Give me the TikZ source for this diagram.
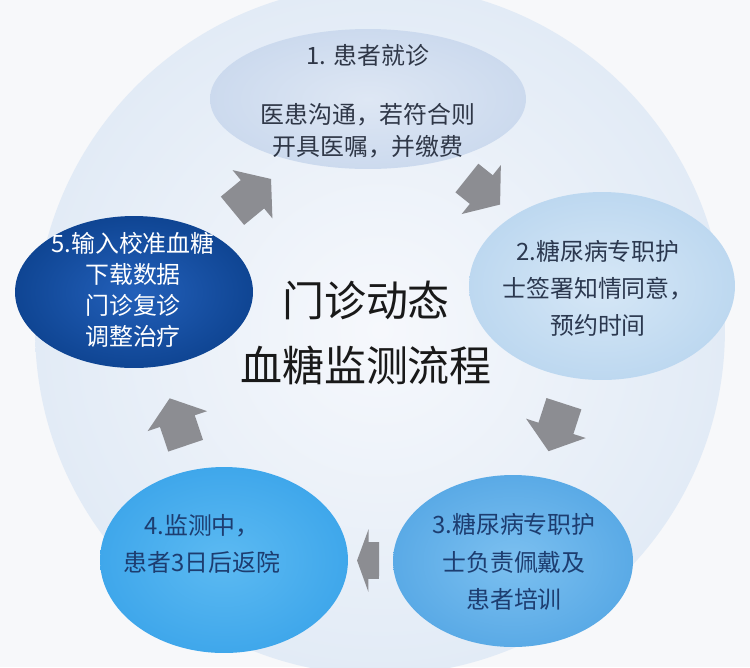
\documentclass[tikz,border=0pt]{standalone}
\usepackage{fontspec}
\usepackage{xcolor}
\usetikzlibrary{shapes.geometric,shapes.arrows}
\newfontfamily\cjk{Noto Sans CJK SC}
\definecolor{cgmBack}{HTML}{F7F8FA}
\definecolor{cgmRingIn}{HTML}{F6F8FC}
\definecolor{cgmRingOut}{HTML}{E2EBF6}
\definecolor{cgmGray}{HTML}{8C8D92}
\definecolor{cgmInk}{HTML}{2F3747}
\definecolor{cgmNavy}{HTML}{1D3D70}
\tikzset{
 cgm step/.style={ellipse,inner sep=0pt,outer sep=0pt},
 cgm label/.style={font=\cjk\fontsize{13.6}{#1}\selectfont,align=center,
                   inner sep=0pt},
 cgm label/.default=21,
 cgm title/.style={font=\cjk\fontsize{23.9}{37.5}\selectfont,align=center,
                   inner sep=0pt,text=black!90},
 cgm arrow/.style={single arrow,fill=cgmGray,inner xsep=0pt,inner ysep=.36cm,
                   single arrow head extend=.26cm,single arrow tip angle=105,
                   minimum height=1cm,sloped,allow upside down}
}

\begin{document}
\begin{tikzpicture}[x=.02cm,y=-.02cm]
 \clip (0,0) rectangle (750,667);
 \fill[cgmBack] (0,0) rectangle (750,667);
 \shade[inner color=cgmRingIn,outer color=cgmRingOut] (380,330) circle [radius=6.9cm];

 % the five steps
 \node[cgm step,minimum width=6.32cm,minimum height=2.8cm,shade,
       inner color={rgb,255:red,222;green,231;blue,244},
       outer color={rgb,255:red,204;green,218;blue,238}] (s1) at (368,99) {};
 \node[cgm step,minimum width=5.32cm,minimum height=3.76cm,shade,
       inner color={rgb,255:red,214;green,231;blue,246},
       outer color={rgb,255:red,189;green,216;blue,240}] (s2) at (602,286) {};
 \node[cgm step,minimum width=4.8cm,minimum height=3.44cm,shade,
       inner color={rgb,255:red,124;green,192;blue,240},
       outer color={rgb,255:red,90;green,170;blue,230}] (s3) at (513,561) {};
 \node[cgm step,minimum width=4.96cm,minimum height=3.72cm,shade,
       inner color={rgb,255:red,92;green,186;blue,242},
       outer color={rgb,255:red,63;green,167;blue,235}] (s4) at (224,560) {};
 \node[cgm step,minimum width=4.76cm,minimum height=3.04cm,shade,
       inner color={rgb,255:red,35;green,96;blue,186},
       outer color={rgb,255:red,15;green,69;blue,147}] (s5) at (134,292) {};

 \node[cgm label,text=cgmInk] (t1) at (368,55) {1. 患者就诊};
 \node[cgm label=18.2,text=cgmInk] (t1b) at (368,131)
   {医患沟通，若符合则\\开具医嘱，并缴费};
 \node[cgm label,text=cgmInk!80!cgmNavy] (t2) at (598,288)
   {2.糖尿病专职护\\士签署知情同意，\\预约时间};
 \node[cgm label=21.5,text=cgmNavy] (t3) at (514,562)
   {3.糖尿病专职护\\士负责佩戴及\\患者培训};
 \node[cgm label=21.5,text=cgmNavy] (t4) at (202,544)
   {4.监测中，\\患者3日后返院};
 \node[cgm label=17.6,text=white] (t5) at (133,290)
   {5.输入校准血糖\\下载数据\\门诊复诊\\调整治疗};
 \node[cgm title] (title) at (366,333) {门诊动态\\血糖监测流程};

 % block arrows between steps
 \path (s1.center) -- node[cgm arrow,pos=.47,minimum height=.85cm] (a12) {} (s2.center);
 \path (s2.center) -- node[cgm arrow,pos=.49] (a23) {} (s3.center);
 \path (s3.center) -- node[cgm arrow,pos=.49,single arrow tip angle=140,
                            minimum height=.44cm] (a34) {} (s4.center);
 \path (s4.center) -- node[cgm arrow,pos=.49] (a45) {} (s5.center);
 \path (s5.center) -- node[cgm arrow,pos=.48] (a51) {} (s1.center);
\end{tikzpicture}
\end{document}
